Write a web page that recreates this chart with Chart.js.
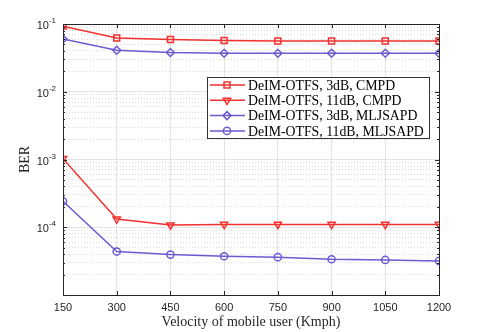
<!DOCTYPE html>
<html>
<head>
<meta charset="utf-8">
<script src="https://cdn.jsdelivr.net/npm/chart.js@4/dist/chart.umd.min.js"></script>
<style>
  html, body { margin: 0; padding: 0; background: #fff; }
  #wrap { width: 485px; height: 332px; }
</style>
</head>
<body>
<div id="wrap"><canvas id="berChart" width="485" height="332"></canvas></div>
<script>
// ---- data ----
const velocities = [150, 300, 450, 600, 750, 900, 1050, 1200];
const cmpd3dB    = [0.093, 0.062, 0.059, 0.057, 0.056, 0.056, 0.056, 0.056];
const cmpd11dB   = [1.03e-3, 1.32e-4, 1.08e-4, 1.1e-4, 1.1e-4, 1.1e-4, 1.1e-4, 1.1e-4];
const mljs3dB    = [0.060, 0.041, 0.038, 0.037, 0.037, 0.037, 0.037, 0.037];
const mljs11dB   = [2.42e-4, 4.38e-5, 3.95e-5, 3.73e-5, 3.62e-5, 3.37e-5, 3.29e-5, 3.18e-5];
const seriesLabels = [
    'DeIM-OTFS, 3dB, CMPD',
    'DeIM-OTFS, 11dB, CMPD',
    'DeIM-OTFS, 3dB, MLJSAPD',
    'DeIM-OTFS, 11dB, MLJSAPD'
];
const yExponents = [-5, -4, -3, -2, -1];
const yLabelExponents = [-4, -3, -2, -1];   // bottom decade is not labelled in the figure
const xTitle = 'Velocity of mobile user (Kmph)';
const yTitle = 'BER';

const RED = '#f2302e';
const BLUE = '#6a5bd2';
const AXIS = '#262626';
const SERIF = '"Liberation Serif", "Times New Roman", serif';

// y ticks: every decade plus 2..9 minor steps
const yTickValues = [];
yExponents.forEach(e => {
    yTickValues.push(Math.pow(10, e));
    if (e < yExponents[yExponents.length - 1]) {
        for (let m = 2; m <= 9; m++) yTickValues.push(m * Math.pow(10, e));
    }
});
const isDecade = v => Math.abs(Math.log10(v) - Math.round(Math.log10(v))) < 1e-9;

function series(label, values, color, style, rotation, radius) {
    return {
        label: label,
        data: velocities.map((v, i) => ({ x: v, y: values[i] })),
        borderColor: color,
        backgroundColor: 'rgba(255,255,255,0)',
        borderWidth: 1.5,
        pointStyle: style,
        rotation: rotation,
        pointRadius: radius,
        pointBorderWidth: 1.5,
        pointBorderColor: color,
        pointBackgroundColor: 'rgba(255,255,255,0)',
        tension: 0
    };
}

// ---- frame, y tick labels, titles, boxed legend ----
const decorPlugin = {
    id: 'decor',
    afterDraw(chart) {
        const ctx = chart.ctx;
        const a = chart.chartArea;
        const xs = chart.scales.x, ys = chart.scales.y;
        ctx.save();

        // axes box + inward ticks like MATLAB
        ctx.strokeStyle = AXIS;
        ctx.lineWidth = 1;
        ctx.strokeRect(Math.round(a.left) + 0.5, Math.round(a.top) + 0.5,
            Math.round(a.right - a.left), Math.round(a.bottom - a.top));
        ctx.beginPath();
        velocities.forEach(v => {
            const px = Math.round(xs.getPixelForValue(v)) + 0.5;
            ctx.moveTo(px, a.bottom); ctx.lineTo(px, a.bottom - 4);
            ctx.moveTo(px, a.top); ctx.lineTo(px, a.top + 4);
        });
        yTickValues.forEach(v => {
            const py = Math.round(ys.getPixelForValue(v)) + 0.5;
            const len = isDecade(v) ? 4 : 2;
            ctx.moveTo(a.left, py); ctx.lineTo(a.left + len, py);
            ctx.moveTo(a.right, py); ctx.lineTo(a.right - len, py);
        });
        ctx.stroke();

        // y tick labels 10^n
        ctx.fillStyle = AXIS;
        ctx.textBaseline = 'middle';
        yLabelExponents.forEach(e => {
            const py = ys.getPixelForValue(Math.pow(10, e));
            const exp = String(e);
            ctx.font = '8px "Liberation Sans", Arial, sans-serif';
            const ew = ctx.measureText(exp).width;
            ctx.font = '11px "Liberation Sans", Arial, sans-serif';
            const bw = ctx.measureText('10').width;
            const right = a.left - 7;
            ctx.textAlign = 'left';
            ctx.fillText('10', right - ew - bw, py + 2);
            ctx.font = '8px "Liberation Sans", Arial, sans-serif';
            ctx.fillText(exp, right - ew, py - 3);
        });

        // axis titles
        ctx.font = '14px ' + SERIF;
        ctx.textAlign = 'center';
        ctx.fillText(xTitle, (a.left + a.right) / 2, 322);
        ctx.save();
        ctx.translate(25, (a.top + a.bottom) / 2);
        ctx.rotate(-Math.PI / 2);
        ctx.fillText(yTitle, 0, 0);
        ctx.restore();

        // legend box
        const lx = 207, ly = 77, lw = 222, lh = 61;
        ctx.fillStyle = '#fff';
        ctx.fillRect(lx, ly, lw, lh);
        ctx.strokeStyle = '#333';
        ctx.strokeRect(lx + 0.5, ly + 0.5, lw, lh);
        chart.data.datasets.forEach((ds, i) => {
            const y = ly + 8 + i * 15.3;
            ctx.strokeStyle = ds.borderColor;
            ctx.lineWidth = 1.5;
            ctx.beginPath();
            ctx.moveTo(lx + 3, y); ctx.lineTo(lx + 38, y);
            ctx.stroke();
            ctx.fillStyle = 'rgba(255,255,255,0)';
            Chart.helpers.drawPoint(ctx, {
                pointStyle: ds.pointStyle, rotation: ds.rotation,
                radius: ds.pointRadius, borderWidth: 1.5
            }, lx + 20, y);
            ctx.fillStyle = '#000';
            ctx.font = '13.8px ' + SERIF;
            ctx.textAlign = 'left';
            ctx.textBaseline = 'middle';
            ctx.fillText(ds.label, lx + 41, y + 1);
        });
        ctx.restore();
    }
};

new Chart(document.getElementById('berChart'), {
    type: 'line',
    data: {
        datasets: [
            series(seriesLabels[0], cmpd3dB, RED, 'rect', 0, 4.2),
            series(seriesLabels[1], cmpd11dB, RED, 'triangle', 180, 4.2),
            series(seriesLabels[2], mljs3dB, BLUE, 'rectRot', 0, 4),
            series(seriesLabels[3], mljs11dB, BLUE, 'circle', 0, 3.6)
        ]
    },
    options: {
        responsive: false,
        animation: false,
        devicePixelRatio: 1,
        layout: { padding: { top: 24, right: 46, left: 0, bottom: 0 } },
        plugins: { legend: { display: false }, tooltip: { enabled: false } },
        scales: {
            x: {
                type: 'linear',
                min: 150, max: 1200,
                afterBuildTicks: s => { s.ticks = velocities.map(v => ({ value: v })); },
                afterFit: s => { s.height = 37; },
                grid: { color: '#e3e3e3', lineWidth: 1, drawTicks: false },
                border: { display: false },
                ticks: {
                    autoSkip: false, maxRotation: 0, padding: 6,
                    color: AXIS,
                    callback: v => String(v),
                    font: { family: '"Liberation Sans", Arial, sans-serif', size: 11 }
                }
            },
            y: {
                type: 'logarithmic',
                min: 1e-5, max: 1e-1,
                afterBuildTicks: s => { s.ticks = yTickValues.map(v => ({ value: v })); },
                afterFit: s => { s.width = 63; },
                grid: {
                    drawTicks: false,
                    color: c => (c.tick && isDecade(c.tick.value)) ? '#e3e3e3' : '#dcdcdc'
                },
                border: {
                    display: false,
                    dash: c => (c.tick && !isDecade(c.tick.value)) ? [1, 2] : []
                },
                ticks: { display: false, autoSkip: false }
            }
        }
    },
    plugins: [decorPlugin]
});
</script>
</body>
</html>
